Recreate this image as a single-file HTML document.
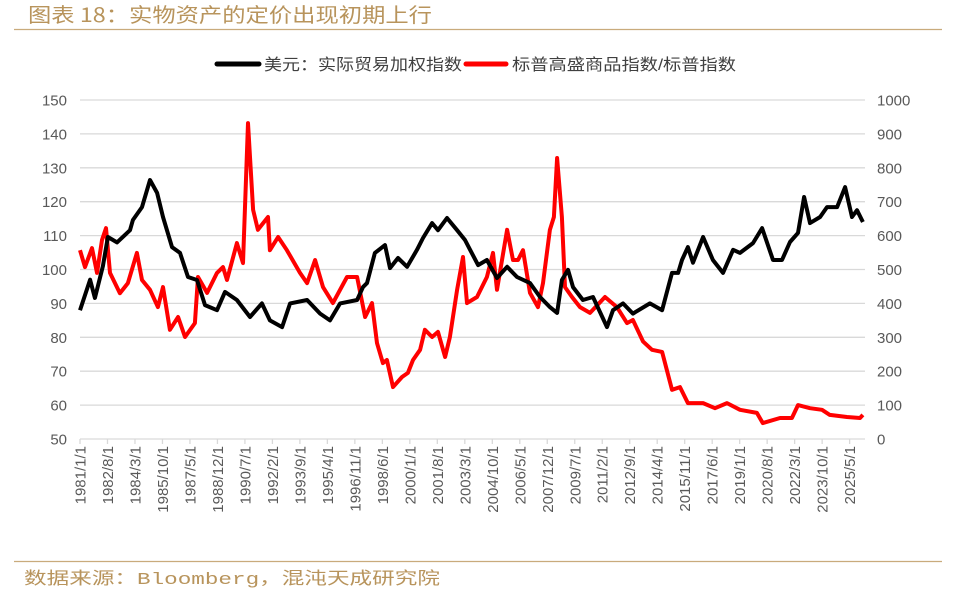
<!DOCTYPE html>
<html><head><meta charset="utf-8"><style>
html,body{margin:0;padding:0;background:#fff;}
svg{display:block;font-family:"Liberation Sans","Noto Sans CJK SC",sans-serif;}
</style></head><body>
<svg id="chart" width="956" height="590" viewBox="0 0 956 590" xmlns="http://www.w3.org/2000/svg">
<text x="28" y="22" font-size="20" fill="#b8945c" textLength="404" lengthAdjust="spacingAndGlyphs" font-family="'Noto Sans CJK SC',sans-serif">图表 18：实物资产的定价出现初期上行</text>
<line x1="14" y1="29.5" x2="942" y2="29.5" stroke="#c9ab7c" stroke-width="1.2"/>
<g>
<line x1="217" y1="64" x2="259" y2="64" stroke="#000" stroke-width="5" stroke-linecap="round"/>
<text x="264" y="70" font-size="16" fill="#404040" textLength="198" lengthAdjust="spacingAndGlyphs">美元：实际贸易加权指数</text>
<line x1="466" y1="64" x2="506" y2="64" stroke="#f00" stroke-width="5" stroke-linecap="round"/>
<text x="512" y="70" font-size="16" fill="#404040" textLength="224" lengthAdjust="spacingAndGlyphs">标普高盛商品指数/标普指数</text>
</g>
<g id="grid"></g><g id="axes"></g><g id="series"></g>
<line x1="14" y1="561.5" x2="942" y2="561.5" stroke="#c9ab7c" stroke-width="1.2"/>
<text x="24" y="584" font-size="17" fill="#b8945c" textLength="416" lengthAdjust="spacingAndGlyphs" font-family="'Liberation Mono','Noto Sans CJK SC',monospace">数据来源：Bloomberg，混沌天成研究院</text>
</svg>
<script>
const xTickLabels=["1981/1/1","1982/8/1","1984/3/1","1985/10/1","1987/5/1","1988/12/1","1990/7/1","1992/2/1","1993/9/1","1995/4/1","1996/11/1","1998/6/1","2000/1/1","2001/8/1","2003/3/1","2004/10/1","2006/5/1","2007/12/1","2009/7/1","2011/2/1","2012/9/1","2014/4/1","2015/11/1","2017/6/1","2019/1/1","2020/8/1","2022/3/1","2023/10/1","2025/5/1"];
const leftTicks=[50,60,70,80,90,100,110,120,130,140,150];
const rightTicks=[0,100,200,300,400,500,600,700,800,900,1000];
const usdDates=[1981.00,1981.58,1981.86,1982.32,1982.61,1983.13,1983.88,1984.05,1984.57,1985.03,1985.44,1985.78,1986.30,1986.76,1987.22,1987.74,1988.20,1988.89,1989.35,1990.04,1990.79,1991.48,1991.94,1992.64,1993.10,1994.08,1994.83,1995.40,1995.98,1996.96,1997.30,1997.53,1997.99,1998.57,1998.86,1999.32,1999.84,2000.41,2000.76,2001.28,2001.62,2002.14,2002.72,2003.18,2003.47,2003.93,2004.44,2005.02,2005.60,2006.17,2006.92,2007.50,2008.07,2008.48,2008.76,2009.11,2009.40,2009.97,2010.55,2011.36,2011.70,2012.28,2012.85,2013.83,2014.53,2015.10,2015.45,2015.68,2016.02,2016.31,2016.89,2017.46,2018.04,2018.62,2019.02,2019.77,2020.29,2020.92,2021.44,2021.90,2022.36,2022.71,2023.05,2023.63,2024.03,2024.61,2025.07,2025.47,2025.76,2026.10];
const usdValues=[88,97,91.6,101,109.6,108,111.6,114.6,118.4,126.4,122.6,115.5,106.6,104.9,97.8,96.9,89.5,88,93.4,91,86,90,85,83,90,91,87,85,90,91,94.8,96,104.9,107.2,100.4,103.4,100.8,105.8,109.3,113.7,111.6,115.2,111.6,108.7,105.8,101.3,102.8,97.5,100.8,97.8,96,91.9,88.9,87.2,96.9,99.9,94.8,91,91.9,83,88,90,87,90,88,99,99,102.8,106.6,102,109.6,102.8,99,105.8,104.9,107.8,112.2,102.8,102.8,108.1,110.8,121.4,113.7,115.5,118.4,118.4,124.3,115.5,117.5,114];
const cmdDates=[1981.00,1981.29,1981.69,1981.98,1982.27,1982.50,1982.73,1983.30,1983.76,1984.28,1984.57,1985.03,1985.49,1985.78,1986.18,1986.65,1987.05,1987.62,1987.80,1988.32,1988.89,1989.24,1989.47,1990.04,1990.39,1990.68,1990.97,1991.25,1991.83,1991.94,1992.41,1992.92,1993.67,1994.08,1994.54,1995.00,1995.57,1996.38,1996.96,1997.42,1997.82,1998.11,1998.45,1998.68,1999.03,1999.55,1999.89,2000.18,2000.59,2000.87,2001.28,2001.62,2002.03,2002.31,2002.72,2003.06,2003.29,2003.87,2004.44,2004.79,2005.02,2005.60,2005.94,2006.23,2006.52,2006.92,2007.38,2007.67,2008.07,2008.30,2008.48,2008.76,2008.94,2009.34,2009.80,2010.38,2011.24,2011.93,2012.51,2012.85,2013.43,2013.95,2014.53,2015.10,2015.56,2016.02,2016.89,2017.58,2018.27,2019.02,2019.99,2020.33,2021.32,2022.01,2022.36,2023.05,2023.74,2024.19,2025.18,2025.93,2026.10];
const cmdValues=[557,507,563,490,587,622,490,430,460,549,469,440,389,448,322,360,301,342,478,431,490,507,469,578,519,932,676,617,655,557,596,557,490,460,528,448,401,478,478,360,401,283,224,233,153,183,195,233,263,322,301,316,242,301,440,537,401,419,478,549,440,617,528,528,557,431,389,460,617,655,829,655,448,419,389,372,419,389,342,351,288,263,257,145,153,106,106,91,106,86,77,47,62,62,100,91,86,71,65,62,71];

const X0=80,PX_PER_YEAR=17.36,Y0=439,Y150=100;
const xScale=d=>X0+(d-1981)*PX_PER_YEAR;
const yL=v=>Y0-(v-50)/100*(Y0-Y150);
const yR=v=>Y0-v/1000*(Y0-Y150);
const NS="http://www.w3.org/2000/svg";
const mk=(t,a,p)=>{const e=document.createElementNS(NS,t);for(const k in a)e.setAttribute(k,a[k]);p.appendChild(e);return e;};
const grid=document.getElementById('grid'),axes=document.getElementById('axes'),series=document.getElementById('series');
leftTicks.forEach((t,i)=>{
  const y=yL(t);
  if(i>0){const g=mk('line',{x1:80,x2:865,y1:y,y2:y,stroke:'#d9d9d9','stroke-width':1.3},grid);
  
  }
  const l=mk('text',{x:67,y:y+5.5,'font-size':15,fill:'#595959','text-anchor':'end'},axes);l.textContent=t;
  
  
});
rightTicks.forEach(t=>{
  const l=mk('text',{x:877,y:yR(t)+5.5,'font-size':15,fill:'#595959'},axes);l.textContent=t;
  
  
});
const base=mk('line',{x1:80,x2:865,y1:Y0,y2:Y0,stroke:'#d9d9d9','stroke-width':1.3},axes);


xTickLabels.forEach((s,i)=>{
  const p=s.split('/');const d=+p[0]+(+p[1]-1)/12;const x=xScale(d);
  const tk=mk('line',{x1:x,x2:x,y1:Y0,y2:Y0+5,stroke:'#d9d9d9','stroke-width':1.3},axes);
  
  
  const l=mk('text',{x:0,y:0,'font-size':15,fill:'#595959','text-anchor':'end',transform:`translate(${x+5.5},${Y0+7}) rotate(-90)`},axes);l.textContent=s;
  
  
});
const path=(ds,vs,fy)=>ds.map((d,i)=>(i?'L':'M')+xScale(d).toFixed(1)+','+fy(vs[i]).toFixed(1)).join('');
const red=mk('path',{d:path(cmdDates,cmdValues,yR),fill:'none',stroke:'#ff0000','stroke-width':4,'stroke-linejoin':'round'},series);


const blk=mk('path',{d:path(usdDates,usdValues,yL),fill:'none',stroke:'#000','stroke-width':4,'stroke-linejoin':'round'},series);


</script>
</body></html>
